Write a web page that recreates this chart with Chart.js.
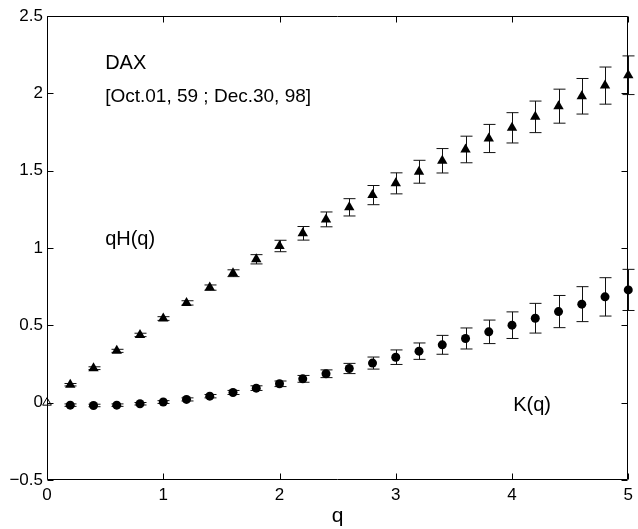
<!DOCTYPE html>
<html>
<head>
<meta charset="utf-8">
<script src="https://cdn.jsdelivr.net/npm/chart.js@4"></script>
<style>
html,body{margin:0;padding:0;background:#fff;}
#wrap{width:638px;height:529px;position:relative;}
</style>
</head>
<body>
<div id="wrap"><canvas id="c" width="638" height="529"></canvas></div>
<script>
// ---- data ----
const qValues = [0.2,0.4,0.6,0.8,1.0,1.2,1.4,1.6,1.8,2.0,2.2,2.4,2.6,2.8,3.0,3.2,3.4,3.6,3.8,4.0,4.2,4.4,4.6,4.8,5.0];
const qHValues = [0.116,0.223,0.335,0.438,0.544,0.645,0.744,0.837,0.927,1.013,1.095,1.185,1.263,1.342,1.418,1.493,1.564,1.637,1.708,1.777,1.848,1.917,1.981,2.050,2.117];
const qHErrors = [0.008,0.009,0.010,0.011,0.012,0.014,0.017,0.022,0.030,0.037,0.044,0.048,0.056,0.062,0.068,0.074,0.079,0.086,0.091,0.098,0.102,0.110,0.115,0.120,0.125];
const kValues = [-0.016,-0.018,-0.016,-0.007,0.004,0.021,0.042,0.066,0.094,0.122,0.154,0.187,0.221,0.256,0.294,0.333,0.374,0.415,0.458,0.501,0.546,0.589,0.637,0.684,0.729];
const kErrors = [0.008,0.008,0.008,0.008,0.009,0.010,0.011,0.013,0.015,0.018,0.022,0.025,0.033,0.039,0.047,0.053,0.061,0.068,0.076,0.086,0.096,0.104,0.113,0.124,0.133];
const originQ = [0];
const originValues = [0];
const xTicks = [0,1,2,3,4,5];
const yTicks = [-0.5,0,0.5,1,1.5,2,2.5];
const annotations = [
  {text:'DAX', q:0.5, v:2.19, size:20},
  {text:'[Oct.01, 59 ; Dec.30, 98]', q:0.5, v:1.98, size:19},
  {text:'qH(q)', q:0.5, v:1.058, size:20},
  {text:'K(q)', q:4.01, v:-0.02, size:20}
];

const FONT = "'Liberation Sans', Arial, Helvetica, sans-serif";
const toPts = (xs, ys) => xs.map((x,i)=>({x:x, y:ys[i]}));

const errorBars = {
  id:'errorBars',
  beforeDatasetsDraw(chart){
    const {ctx, scales:{x,y}} = chart;
    const sets = [[qValues,qHValues,qHErrors],[qValues,kValues,kErrors]];
    ctx.save();
    ctx.strokeStyle = '#111';
    ctx.lineWidth = 1;
    const cap = 6;
    sets.forEach(([qs,vs,es])=>{
      qs.forEach((q,i)=>{
        const px = Math.round(x.getPixelForValue(q))+0.5;
        const y1 = y.getPixelForValue(vs[i]+es[i]);
        const y2 = y.getPixelForValue(vs[i]-es[i]);
        ctx.beginPath();
        ctx.moveTo(px,y1); ctx.lineTo(px,y2);
        ctx.moveTo(px-cap,y1); ctx.lineTo(px+cap,y1);
        ctx.moveTo(px-cap,y2); ctx.lineTo(px+cap,y2);
        ctx.stroke();
      });
    });
    ctx.restore();
  }
};

const frame = {
  id:'frame',
  afterDraw(chart){
    const {ctx, chartArea:a, scales:{x,y}} = chart;
    ctx.save();
    ctx.strokeStyle = '#000';
    ctx.lineWidth = 1;
    const L = Math.round(a.left)+0.5, R = Math.round(a.right)-0.5, T = Math.round(a.top)+0.5, B = Math.round(a.bottom)-0.5;
    ctx.beginPath();
    ctx.rect(L, T, R-L, B-T);
    const len = 6;
    xTicks.forEach(t=>{
      const px = Math.round(x.getPixelForValue(t))+0.5;
      ctx.moveTo(px,B); ctx.lineTo(px,B-len);
      ctx.moveTo(px,T); ctx.lineTo(px,T+len);
    });
    yTicks.forEach(t=>{
      const py = Math.round(y.getPixelForValue(t))+0.5;
      ctx.moveTo(L,py); ctx.lineTo(L+len,py);
      ctx.moveTo(R,py); ctx.lineTo(R-len,py);
    });
    ctx.stroke();
    ctx.fillStyle = '#000';
    ctx.textAlign = 'left';
    ctx.textBaseline = 'middle';
    annotations.forEach(an=>{
      ctx.font = an.size + 'px ' + FONT;
      ctx.fillText(an.text, x.getPixelForValue(an.q), y.getPixelForValue(an.v));
    });
    ctx.restore();
  }
};

new Chart(document.getElementById('c'), {
  type:'scatter',
  data:{
    datasets:[
      {label:'qH(q)', data:toPts(qValues,qHValues), pointStyle:'triangle', pointRadius:6, pointHoverRadius:6,
       backgroundColor:'#000', borderColor:'#000', borderWidth:0, clip:false},
      {label:'K(q)', data:toPts(qValues,kValues), pointStyle:'circle', pointRadius:4.5, pointHoverRadius:4.5,
       backgroundColor:'#000', borderColor:'#000', borderWidth:0, clip:false},
      {label:'origin', data:toPts(originQ,originValues), pointStyle:'triangle', pointRadius:5, pointHoverRadius:5,
       backgroundColor:'#fff', borderColor:'#000', borderWidth:1, clip:false}
    ]
  },
  options:{
    responsive:false,
    animation:false,
    layout:{padding:{top:16,right:3,left:0,bottom:0}},
    plugins:{legend:{display:false},tooltip:{enabled:false}},
    scales:{
      x:{
        type:'linear', min:0, max:5,
        afterBuildTicks(s){ s.ticks = xTicks.map(v=>({value:v})); },
        afterFit(s){ s.height = 49; },
        grid:{display:false, drawTicks:false},
        border:{display:false},
        ticks:{color:'#000', padding:5, font:{family:FONT,size:17}, maxRotation:0, autoSkip:false,
               callback:(v)=>String(v)},
        title:{display:true, text:'q', color:'#000', font:{family:FONT,size:21}, padding:{top:0,bottom:0}}
      },
      y:{
        type:'linear', min:-0.5, max:2.5,
        afterBuildTicks(s){ s.ticks = yTicks.map(v=>({value:v})); },
        afterFit(s){ s.width = 47; },
        grid:{display:false, drawTicks:false},
        border:{display:false},
        ticks:{color:'#000', padding:4, font:{family:FONT,size:17}, autoSkip:false,
               callback:(v)=> (v<0 ? '\u2212' + String(Math.abs(v)) : String(v))}
      }
    }
  },
  plugins:[errorBars, frame]
});
</script>
</body>
</html>
